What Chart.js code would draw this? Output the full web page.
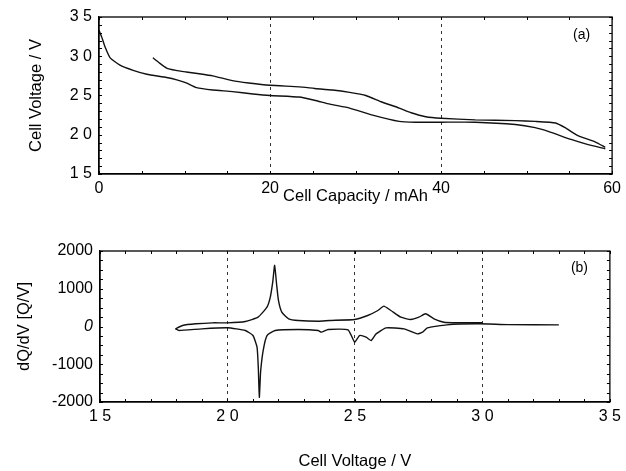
<!DOCTYPE html>
<html>
<head>
<meta charset="utf-8">
<script src="https://cdn.jsdelivr.net/npm/chart.js@4.4.0/dist/chart.umd.min.js"></script>
<style>
  html, body { margin: 0; padding: 0; background: #fff; }
  #top { position: absolute; left: 0; top: 0; width: 626px; height: 210px; }
  #bottom { position: absolute; left: 0; top: 210px; width: 626px; height: 261px; }
</style>
</head>
<body>
<div id="top"><canvas id="chartA"></canvas></div>
<div id="bottom"><canvas id="chartB"></canvas></div>
<script>
// (a) cell voltage vs capacity
const capDischarge = [0, 0.3, 0.7, 1.3, 2.4, 4.0, 5.6, 7.9, 9.1, 10.2, 11.4, 13.3, 15.6, 18, 20, 23.4, 25.2, 27, 29.3, 32, 35.1, 37, 40, 44, 48.7, 51, 52.6, 55.2, 57, 59.2];
const voltDischarge = [3.33, 3.25, 3.12, 2.98, 2.89, 2.82, 2.77, 2.73, 2.70, 2.66, 2.60, 2.57, 2.55, 2.52, 2.50, 2.48, 2.44, 2.39, 2.34, 2.25, 2.17, 2.16, 2.16, 2.16, 2.13, 2.09, 2.04, 1.94, 1.88, 1.82];
const capCharge = [59.2, 58, 56, 54.5, 53.4, 51, 48.7, 44, 40, 38.2, 36.5, 35.1, 33, 31.2, 29.3, 27.3, 25.2, 23.4, 20, 17.5, 15.6, 13.3, 11.5, 10.2, 9, 7.9, 7, 6.3];
const voltCharge = [1.84, 1.91, 1.99, 2.09, 2.15, 2.17, 2.18, 2.19, 2.21, 2.23, 2.28, 2.34, 2.42, 2.50, 2.54, 2.57, 2.59, 2.61, 2.63, 2.66, 2.69, 2.75, 2.78, 2.80, 2.82, 2.85, 2.92, 2.98];
const capTicks = [0, 20, 40, 60];
const voltTicksA = [1.5, 2.0, 2.5, 3.0, 3.5];

// (b) dQ/dV vs cell voltage
const dqdvVoltCharge = [1.796, 1.824, 1.876, 1.941, 2.0, 2.07, 2.12, 2.155, 2.168, 2.178, 2.185, 2.193, 2.20, 2.213, 2.24, 2.278, 2.356, 2.40, 2.499, 2.55, 2.59, 2.613, 2.641, 2.68, 2.719, 2.751, 2.777, 2.81, 2.849, 2.90, 3.0];
const dqdvCharge = [-62, 27, 71, 97, 97, 133, 247, 512, 777, 1200, 1620, 1100, 690, 380, 203, 159, 141, 159, 186, 292, 424, 539, 424, 247, 186, 247, 336, 204, 114, 100, 100];
const dqdvVoltDischarge = [1.796, 1.81, 1.90, 2.0, 2.07, 2.10, 2.116, 2.121, 2.125, 2.13, 2.14, 2.155, 2.187, 2.278, 2.356, 2.368, 2.395, 2.473, 2.499, 2.518, 2.544, 2.563, 2.583, 2.622, 2.693, 2.745, 2.765, 2.784, 2.86, 2.98, 3.1, 3.3];
const dqdvDischarge = [-62, -106, -62, -35, -106, -239, -548, -1100, -1875, -1200, -636, -239, -106, -80, -106, -150, -80, -88, -416, -239, -283, -371, -195, -35, -62, -195, -150, -35, 44, 71, 50, 44];
const voltTicksB = [1.5, 2.0, 2.5, 3.0, 3.5];
const dqdvTicks = [-2000, -1000, 0, 1000, 2000];

const FONT = '"Liberation Sans", Arial, sans-serif';

const toPoints = (xs, ys) => xs.map((x, i) => ({ x, y: ys[i] }));
// scanned labels lost their decimal points: "3 5", "2 0"...
const spaced = v => v.toFixed(1).replace('.', ' ');

const lineSet = (xs, ys) => ({
  data: toPoints(xs, ys),
  borderColor: '#111',
  borderWidth: 1.4,
  pointRadius: 0,
  tension: 0.15,
  fill: false,
});

// dashed vertical lines only at the inner major ticks
const innerGrid = (ticks) => ({
  drawTicks: false,
  lineWidth: 1,
  color: c => {
    const v = c.tick ? c.tick.value : null;
    return (v === ticks[0] || v === ticks[ticks.length - 1]) ? 'rgba(0,0,0,0)' : '#333';
  },
});

// box frame, small inward minor ticks and the panel letter
const framePlugin = {
  id: 'frame',
  afterDraw(chart, args, opts) {
    const { ctx, chartArea: a, scales: { x, y } } = chart;
    ctx.save();
    ctx.strokeStyle = '#000';
    ctx.lineWidth = 1.3;
    ctx.strokeRect(a.left, a.top, a.right - a.left, a.bottom - a.top);
    ctx.lineWidth = 1;
    ctx.beginPath();
    for (let v = x.min; v <= x.max + 1e-9; v += opts.xStep) {
      const px = Math.round(x.getPixelForValue(v)) + 0.5;
      ctx.moveTo(px, a.bottom); ctx.lineTo(px, a.bottom - 3);
      ctx.moveTo(px, a.top); ctx.lineTo(px, a.top + 3);
    }
    for (let v = y.min; v <= y.max + 1e-9; v += opts.yStep) {
      const py = Math.round(y.getPixelForValue(v)) + 0.5;
      ctx.moveTo(a.left, py); ctx.lineTo(a.left + 3, py);
      ctx.moveTo(a.right, py); ctx.lineTo(a.right - 3, py);
    }
    ctx.stroke();
    ctx.fillStyle = '#000';
    ctx.font = '14px ' + FONT;
    ctx.textBaseline = 'middle';
    ctx.fillText(opts.label, a.right - 39, a.top + opts.labelDy);
    ctx.restore();
  }
};

Chart.defaults.font.family = FONT;
Chart.defaults.color = '#000';

new Chart(document.getElementById('chartA'), {
  type: 'line',
  data: {
    datasets: [lineSet(capDischarge, voltDischarge), lineSet(capCharge, voltCharge)]
  },
  options: {
    responsive: true,
    maintainAspectRatio: false,
    animation: false,
    layout: { padding: { top: 17, right: 12, left: 0, bottom: 0 } },
    plugins: {
      legend: { display: false },
      tooltip: { enabled: false },
      frame: { xStep: 5, yStep: 0.1, label: '(a)', labelDy: 18 },
    },
    scales: {
      x: {
        type: 'linear',
        min: capTicks[0],
        max: capTicks[capTicks.length - 1],
        afterBuildTicks: s => { s.ticks = capTicks.map(v => ({ value: v })); },
        ticks: { font: { size: 16 }, padding: 5, maxRotation: 0, callback: v => String(v) },
        grid: innerGrid(capTicks),
        border: { color: '#000', width: 1.3, dash: [3, 4] },
        title: { display: true, text: 'Cell Capacity / mAh', font: { size: 16.5 }, padding: { top: 0, bottom: 4 } },
        afterFit: s => { s.height = 36; },
      },
      y: {
        min: voltTicksA[0],
        max: voltTicksA[voltTicksA.length - 1],
        afterBuildTicks: s => { s.ticks = voltTicksA.map(v => ({ value: v })); },
        ticks: { font: { size: 16 }, padding: 7, callback: v => spaced(v) },
        grid: { display: false, drawTicks: false },
        border: { color: '#000', width: 1.3 },
        title: { display: true, text: 'Cell Voltage / V', font: { size: 16.5 }, padding: { top: 27 } },
        afterFit: s => { s.width = 99; },
      }
    }
  },
  plugins: [framePlugin]
});

new Chart(document.getElementById('chartB'), {
  type: 'line',
  data: {
    datasets: [lineSet(dqdvVoltCharge, dqdvCharge), lineSet(dqdvVoltDischarge, dqdvDischarge)]
  },
  options: {
    responsive: true,
    maintainAspectRatio: false,
    animation: false,
    layout: { padding: { top: 41, right: 12, left: 0, bottom: 0 } },
    plugins: {
      legend: { display: false },
      tooltip: { enabled: false },
      frame: { xStep: 0.1, yStep: 250, label: '(b)', labelDy: 17 },
    },
    scales: {
      x: {
        type: 'linear',
        min: voltTicksB[0],
        max: voltTicksB[voltTicksB.length - 1],
        afterBuildTicks: s => { s.ticks = voltTicksB.map(v => ({ value: v })); },
        ticks: { font: { size: 16 }, padding: 5, maxRotation: 0, callback: v => spaced(v) },
        grid: innerGrid(voltTicksB),
        border: { color: '#000', width: 1.3, dash: [3, 4] },
        title: { display: true, text: 'Cell Voltage / V', font: { size: 16.5 }, padding: { top: 0, bottom: 0 } },
        afterFit: s => { s.height = 69; },
      },
      y: {
        min: dqdvTicks[0],
        max: dqdvTicks[dqdvTicks.length - 1],
        afterBuildTicks: s => { s.ticks = dqdvTicks.map(v => ({ value: v })); },
        ticks: {
          font: c => ({ size: 16, style: c.tick && c.tick.value === 0 ? 'italic' : 'normal' }),
          padding: 7,
          callback: v => String(v),
        },
        grid: { display: false, drawTicks: false },
        border: { color: '#000', width: 1.3 },
        title: { display: true, text: 'dQ/dV [Q/V]', font: { size: 16.5 }, padding: { top: 15 } },
        afterFit: s => { s.width = 100; },
      }
    }
  },
  plugins: [framePlugin]
});
</script>
</body>
</html>
